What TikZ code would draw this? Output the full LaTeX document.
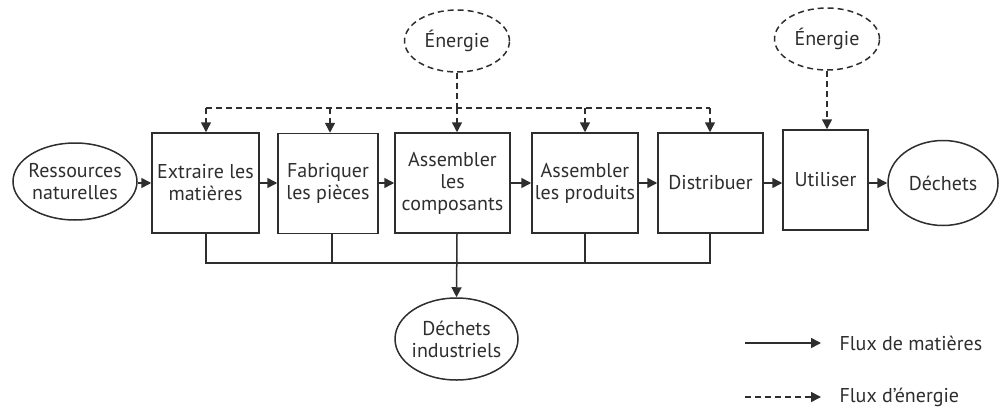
\documentclass[tikz,border=0pt]{standalone}
\usepackage{fontspec}
\setmainfont{PT Sans}
\usetikzlibrary{arrows.meta,shapes.geometric}
\definecolor{ink}{rgb}{0.18,0.18,0.18}
\begin{document}
\begin{tikzpicture}[x=1pt,y=-1pt,
  every node/.style={text=ink, font=\fontsize{20}{22}\selectfont},
  proc/.style={draw=ink, line width=1.5pt, inner sep=0pt, align=center, minimum height=100pt},
  oval/.style={ellipse, draw=ink, line width=1.5pt, inner sep=-14pt, align=center},
  eoval/.style={oval, dashed, dash pattern=on 6pt off 4pt},
  mat/.style={draw=ink, line width=1.5pt, -{Triangle[length=10pt,width=10pt]}},
  wire/.style={draw=ink, line width=1.5pt},
  nrg/.style={draw=ink, line width=1.5pt, dash pattern=on 6pt off 4pt},
  nrga/.style={nrg, -{Triangle[length=10pt,width=10pt]}}
]
\useasboundingbox (0,0) rectangle (1008,412);

% nodes
\node[oval, minimum width=124pt, minimum height=77pt] (res) at (75,181.5) {Ressources\\naturelles};
\node[proc, minimum width=107pt] (b1) at (205.5,183) {Extraire les\\matières};
\node[proc, minimum width=100pt] (b2) at (328,183.5) {Fabriquer\\les pièces};
\node[proc, minimum width=115pt] (b3) at (452.5,183) {Assembler\\les\\composants};
\node[proc, minimum width=106pt] (b4) at (585,183) {Assembler\\les produits};
\node[proc, minimum width=105pt] (b5) at (710.5,183) {Distribuer};
\node[proc, minimum width=85pt] (b6) at (825.5,180) {Utiliser};
\node[oval, minimum width=110pt, minimum height=85pt] (dech) at (943,183) {Déchets};
\node[oval, minimum width=123pt, minimum height=82pt] (dind) at (456.5,339) {Déchets\\industriels};
\node[eoval, minimum width=105pt, minimum height=62pt] (e1) at (457,41) {Énergie};
\node[eoval, minimum width=105pt, minimum height=62pt] (e2) at (827,39) {Énergie};

% material flow
\draw[mat] (res.east |- 0,183) -- (b1.west |- 0,183);
\draw[mat] (b1.east |- 0,183) -- (b2.west |- 0,183);
\draw[mat] (b2.east |- 0,183) -- (b3.west |- 0,183);
\draw[mat] (b3.east |- 0,183) -- (b4.west |- 0,183);
\draw[mat] (b4.east |- 0,183) -- (b5.west |- 0,183);
\draw[mat] (b5.east |- 0,183) -- (b6.west |- 0,183);
\draw[mat] (b6.east |- 0,183) -- (dech.west);

% energy distribution
\coordinate (ej) at (457,108);
\coordinate (el) at (206,108);
\coordinate (er) at (710,108);
\draw[nrg] (e1.south) -- (ej);
\draw[nrg] (el) -- (er);
\draw[nrga] (el) -- (b1.north -| el);
\draw[nrga] (330,108) -- (b2.north -| 330,0);
\draw[nrga] (ej) -- (b3.north -| ej);
\draw[nrga] (585,108) -- (b4.north -| 585,0);
\draw[nrga] (er) -- (b5.north -| er);
\draw[nrga] (e2.south) -- (b6.north -| e2.south);

% industrial waste collection
\coordinate (wl) at (206,263);
\coordinate (wr) at (710,263);
\draw[wire] (b1.south -| wl) -- (wl) -- (wr) -- (b5.south -| wr);
\draw[wire] (b2.south -| 332,0) -- (332,263);
\draw[wire] (b4.south -| 585,0) -- (585,263);
\draw[mat] (b3.south -| 457,0) -- (dind.north);

% legend
\coordinate (l1a) at (745,343);
\coordinate (l1b) at (821,343);
\coordinate (l2a) at (745,397);
\coordinate (l2b) at (821,397);
\draw[mat] (l1a) -- (l1b);
\draw[nrga] (l2a) -- (l2b);
\node[anchor=west] (t1) at (836,343) {Flux de matières};
\node[anchor=west] (t2) at (836,397) {Flux d’énergie};
\end{tikzpicture}
\end{document}
